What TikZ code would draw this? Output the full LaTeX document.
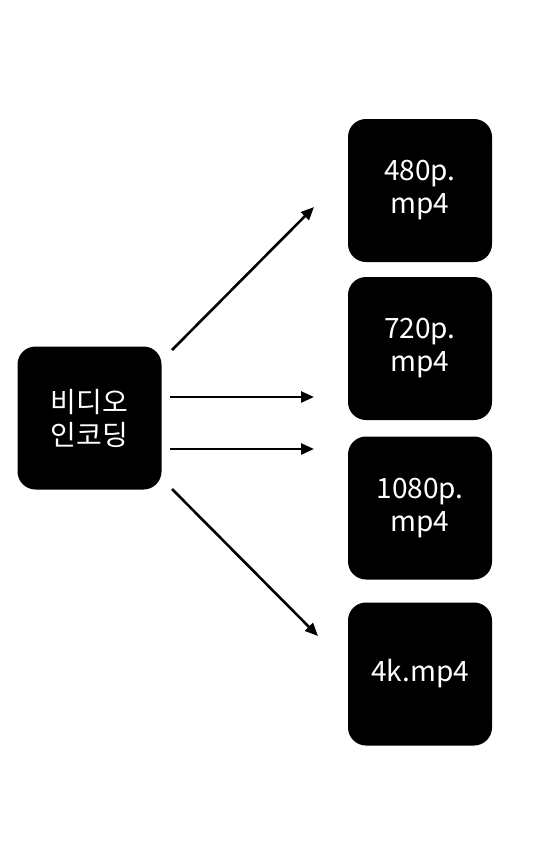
\documentclass[tikz,border=0pt]{standalone}
\usepackage{fontspec}
\setmainfont{Noto Sans CJK KR}
\usepackage{tikz}
\usetikzlibrary{arrows.meta, positioning}
\definecolor{tilecolor}{HTML}{000000}

\begin{document}
\begin{tikzpicture}[x=1pt, y=-1pt,
  tile/.style={fill=tilecolor, rounded corners=18pt, minimum width=144pt, minimum height=143pt, inner sep=0pt, text=white, align=center, font=\fontsize{28}{33}\selectfont},
  flow/.style={-{Triangle[length=13pt, width=11pt]}, line width=2.6pt}]
  \useasboundingbox (0,0) rectangle (546,854);

  % Source
  \node[tile] (src) at (89.5,418) {비디오\\인코딩};

  % Renditions
  \node[tile] (r480) at (420,190.5) {480p.\\mp4};
  \node[tile] (r720) at (420,348.5) {720p.\\mp4};
  \node[tile] (r1080) at (420,508) {1080p.\\mp4};
  \node[tile] (r4k) at (420,674) {4k.mp4};

  % Arrow ends
  \coordinate (s1) at (172,350);
  \coordinate (s2) at (170,397);
  \coordinate (s3) at (170,449);
  \coordinate (s4) at (172,489);
  \coordinate (e1) at (314,207);
  \coordinate (e2) at (314,397);
  \coordinate (e3) at (314,449);
  \coordinate (e4) at (318,636);

  % Arrows
  \draw[flow] (s1) -- (e1);
  \draw[flow] (s2) -- (e2);
  \draw[flow] (s3) -- (e3);
  \draw[flow] (s4) -- (e4);
\end{tikzpicture}
\end{document}
